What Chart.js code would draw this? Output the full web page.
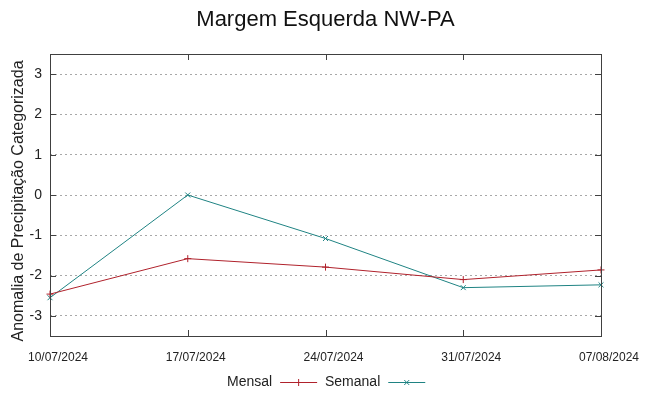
<!DOCTYPE html>
<html>
<head>
<meta charset="utf-8">
<script src="https://cdn.jsdelivr.net/npm/chart.js@4"></script>
<style>
  html, body { margin: 0; padding: 0; background: #fff; }
  #wrap { width: 649px; height: 396px; }
</style>
</head>
<body>
<div id="wrap"><canvas id="myChart"></canvas></div>
<script>
// Data
const datas = ['10/07/2024', '17/07/2024', '24/07/2024', '31/07/2024', '07/08/2024'];
const mensal = [-2.46, -1.58, -1.79, -2.1, -1.86];
const semanal = [-2.55, 0, -1.08, -2.3, -2.23];
const yTicks = [-3, -2, -1, 0, 1, 2, 3];

const titulo = 'Margem Esquerda NW-PA';
const tituloY = 'Anomalia de Precipitação Categorizada';

const corMensal = '#b0222c';
const corSemanal = '#1f8383';
const corBorda = '#404040';
const fonte = '"Liberation Sans", Arial, sans-serif';

// Frame, inward ticks, titles and the legend (gnuplot look)
const gnuplotFrame = {
    id: 'gnuplotFrame',
    afterDatasetsDraw(chart) {
        const { ctx, chartArea: a, scales } = chart;
        ctx.save();
        ctx.strokeStyle = corBorda;
        ctx.lineWidth = 1;
        ctx.strokeRect(a.left + 0.5, a.top + 0.5, a.right - a.left, a.bottom - a.top);
        ctx.beginPath();
        yTicks.forEach(v => {
            const y = Math.round(scales.y.getPixelForValue(v)) + 0.5;
            ctx.moveTo(a.left, y); ctx.lineTo(a.left + 6, y);
            ctx.moveTo(a.right, y); ctx.lineTo(a.right - 6, y);
        });
        datas.forEach((d, i) => {
            const x = Math.round(scales.x.getPixelForValue(i)) + 0.5;
            ctx.moveTo(x, a.bottom); ctx.lineTo(x, a.bottom - 6);
            ctx.moveTo(x, a.top); ctx.lineTo(x, a.top + 6);
        });
        ctx.stroke();
        ctx.restore();
    },
    afterDraw(chart) {
        const { ctx, chartArea: a } = chart;
        ctx.save();

        // main title, centred over the plot area
        ctx.fillStyle = '#111';
        ctx.textAlign = 'center';
        ctx.textBaseline = 'middle';
        ctx.font = '22px ' + fonte;
        ctx.fillText(titulo, (a.left + a.right) / 2, 20);

        // y axis title
        ctx.save();
        ctx.translate(19, 201);
        ctx.rotate(-Math.PI / 2);
        ctx.font = '16px ' + fonte;
        ctx.fillStyle = '#222';
        ctx.fillText(tituloY, 0, 0);
        ctx.restore();

        // legend: text then line sample
        const y = 382;
        ctx.font = '14px ' + fonte;
        ctx.textAlign = 'left';
        const itens = [
            { text: 'Mensal', color: corMensal, style: 'cross', x: 227 },
            { text: 'Semanal', color: corSemanal, style: 'crossRot', x: 325 }
        ];
        itens.forEach(it => {
            const w = ctx.measureText(it.text).width;
            ctx.fillStyle = '#222';
            ctx.fillText(it.text, it.x, y);
            const x0 = it.x + w + 8, x1 = x0 + 37;
            ctx.strokeStyle = it.color;
            ctx.lineWidth = 1;
            ctx.beginPath();
            ctx.moveTo(x0, y + 0.5); ctx.lineTo(x1, y + 0.5);
            ctx.stroke();
            Chart.helpers.drawPoint(ctx, { pointStyle: it.style, radius: 3.5, borderWidth: 1 }, (x0 + x1) / 2, y + 0.5);
        });
        ctx.restore();
    }
};

const ctx = document.getElementById('myChart').getContext('2d');
new Chart(ctx, {
    type: 'line',
    data: {
        labels: datas,
        datasets: [
            {
                label: 'Mensal',
                data: mensal,
                borderColor: corMensal,
                backgroundColor: corMensal,
                borderWidth: 1,
                pointStyle: 'cross',
                pointRadius: 3.5,
                pointBorderWidth: 1,
                tension: 0
            },
            {
                label: 'Semanal',
                data: semanal,
                borderColor: corSemanal,
                backgroundColor: corSemanal,
                borderWidth: 1,
                pointStyle: 'crossRot',
                pointRadius: 3.5,
                pointBorderWidth: 1,
                tension: 0
            }
        ]
    },
    options: {
        responsive: true,
        maintainAspectRatio: false,
        animation: false,
        layout: {
            padding: { left: 0, right: 48, top: 54, bottom: 0 }
        },
        scales: {
            x: {
                type: 'category',
                offset: false,
                afterFit: s => { s.height = 60; },
                ticks: {
                    color: '#222',
                    maxRotation: 0,
                    autoSkip: false,
                    padding: 14,
                    labelOffset: 8,
                    font: { family: fonte, size: 12 }
                },
                grid: { display: false, drawTicks: false },
                border: { display: false }
            },
            y: {
                min: -3.5,
                max: 3.5,
                afterFit: s => { s.width = 50; },
                afterBuildTicks: s => { s.ticks = yTicks.map(v => ({ value: v })); },
                ticks: {
                    color: '#222',
                    padding: 8,
                    font: { family: fonte, size: 14 }
                },
                grid: {
                    color: '#a8a8a8',
                    drawTicks: false,
                    lineWidth: 1
                },
                border: { display: false, dash: [2, 3] }
            }
        },
        plugins: {
            legend: { display: false },
            tooltip: { enabled: false },
            title: { display: false }
        }
    },
    plugins: [gnuplotFrame]
});
</script>
</body>
</html>
